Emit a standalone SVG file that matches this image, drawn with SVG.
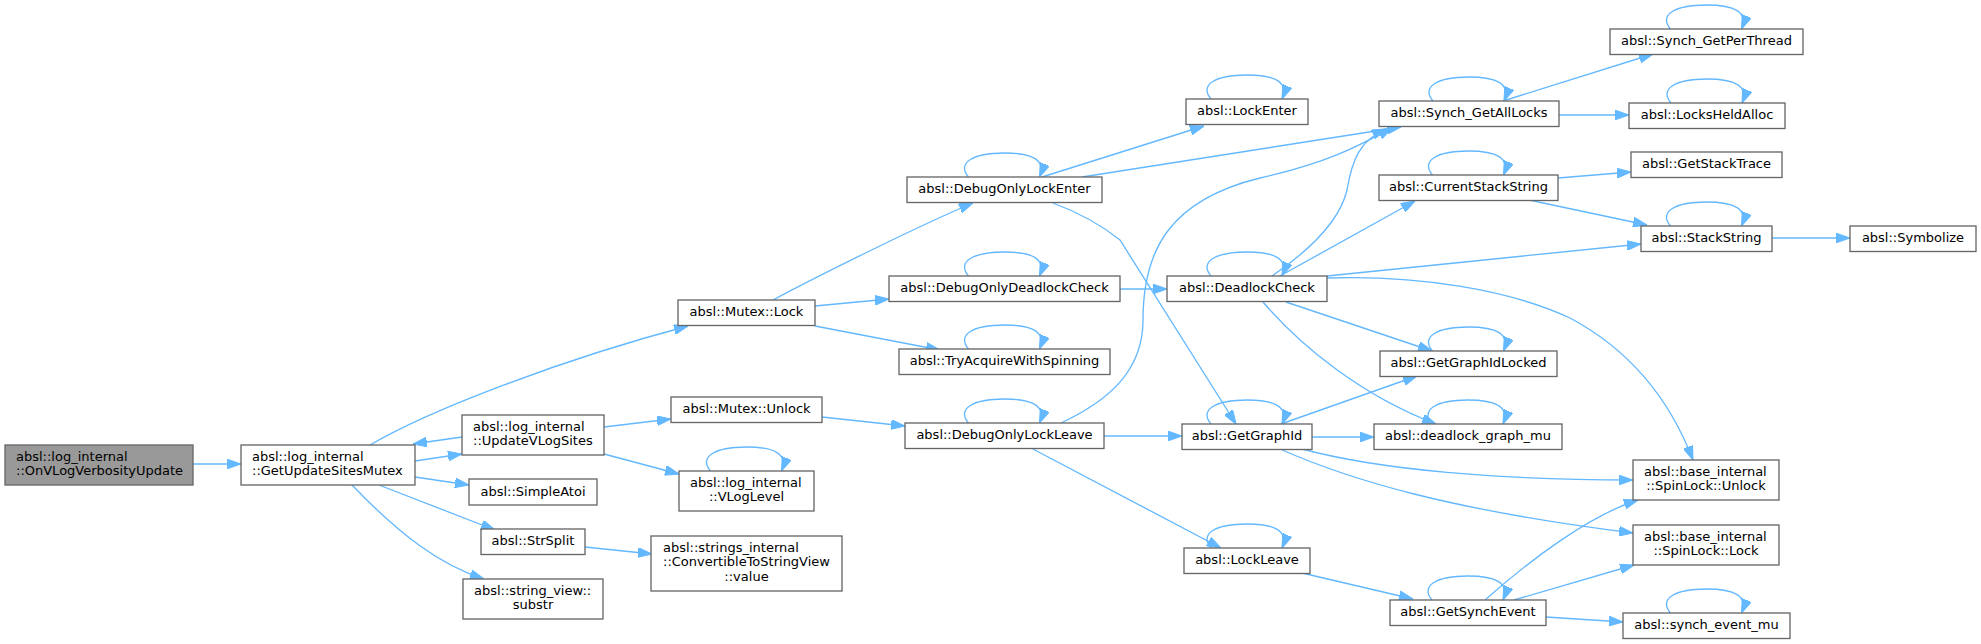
<svg xmlns="http://www.w3.org/2000/svg" width="1981" height="644" viewBox="0 0 1981 644">
<style>
.node rect{fill:#ffffff;stroke:#666666;stroke-width:1.33}
.root rect{fill:#999999}
text{font-family:"DejaVu Sans","Liberation Sans",sans-serif;font-size:13px;fill:#000000}
.c{text-anchor:middle}
.edges path{fill:none;stroke:#63b8ff;stroke-width:1.33;marker-end:url(#arr)}
</style>
<defs>
<marker id="arr" markerUnits="userSpaceOnUse" markerWidth="14" markerHeight="10" viewBox="0 0 13 9" refX="13" refY="4.5" orient="auto">
<path d="M0,0 L13,4.5 L0,9 z" fill="#63b8ff" stroke="#63b8ff" stroke-width="1"/>
</marker>
</defs>
<rect width="1981" height="644" fill="#ffffff"/>
<g class="edges" id="edges">
<path d="M193,464 L241,464"/>
<path d="M370,445 C430,410 560,360 688,326"/>
<path d="M415,461 L462,454"/>
<path d="M462,437 L413,444"/>
<path d="M415,477 L469,485"/>
<path d="M379,485 L495,530"/>
<path d="M352,485 C400,535 440,565 484,579"/>
<path d="M604,427 L671,419"/>
<path d="M604,454 L679,474"/>
<path d="M585,547 L652,554"/>
<path d="M773,300 C810,280 920,225 973,203"/>
<path d="M815,306 L889,299"/>
<path d="M815,326 L940,350"/>
<path d="M1042,177 L1204,126"/>
<path d="M1082,177 L1401,127"/>
<path d="M1053,203 C1080,213 1105,228 1120,240 L1236,424"/>
<path d="M1120,289 L1167,289"/>
<path d="M822,417 L905,426"/>
<path d="M1061,423 C1110,400 1143,370 1143,320 C1143,250 1170,200 1260,178 C1330,162 1360,145 1392,128"/>
<path d="M1104,436 L1182,436"/>
<path d="M1031,448 L1221,548"/>
<path d="M1503,101 L1653,54"/>
<path d="M1559,115 L1629,115"/>
<path d="M1272,276 C1310,250 1340,220 1347,190 C1352,160 1360,140 1386,129"/>
<path d="M1280,276 L1415,201"/>
<path d="M1327,276 L1641,244"/>
<path d="M1327,278 C1420,275 1510,290 1570,318 C1630,350 1670,400 1693,460"/>
<path d="M1286,302 L1432,351"/>
<path d="M1263,302 C1300,345 1360,395 1436,424"/>
<path d="M1558,178 L1631,172"/>
<path d="M1529,200 L1647,225"/>
<path d="M1772,238 L1850,238"/>
<path d="M1281,424 L1417,376"/>
<path d="M1312,437 L1374,437"/>
<path d="M1302,449 C1380,470 1500,480 1633,480"/>
<path d="M1280,449 C1350,480 1450,510 1633,533"/>
<path d="M1302,573 L1413,599"/>
<path d="M1485,600 C1530,560 1590,515 1638,500"/>
<path d="M1514,600 L1634,565"/>
<path d="M1546,617 L1623,622"/>
<path d="M1670.5,29 C1658.5,15 1674.5,5 1706.5,5 C1734.5,5 1748.5,12 1741.5,29"/>
<path d="M1433,101 C1421,87 1437,77 1469,77 C1497,77 1511,84 1504,101"/>
<path d="M1671,103 C1659,89 1675,79 1707,79 C1735,79 1749,86 1742,103"/>
<path d="M1432.5,175 C1420.5,161 1436.5,151 1468.5,151 C1496.5,151 1510.5,158 1503.5,175"/>
<path d="M1670.5,226 C1658.5,212 1674.5,202 1706.5,202 C1734.5,202 1748.5,209 1741.5,226"/>
<path d="M1211,99 C1199,85 1215,75 1247,75 C1275,75 1289,82 1282,99"/>
<path d="M968.5,177 C956.5,163 972.5,153 1004.5,153 C1032.5,153 1046.5,160 1039.5,177"/>
<path d="M968.5,276 C956.5,262 972.5,252 1004.5,252 C1032.5,252 1046.5,259 1039.5,276"/>
<path d="M1211,276 C1199,262 1215,252 1247,252 C1275,252 1289,259 1282,276"/>
<path d="M968.5,349 C956.5,335 972.5,325 1004.5,325 C1032.5,325 1046.5,332 1039.5,349"/>
<path d="M968.5,423 C956.5,409 972.5,399 1004.5,399 C1032.5,399 1046.5,406 1039.5,423"/>
<path d="M1211,424 C1199,410 1215,400 1247,400 C1275,400 1289,407 1282,424"/>
<path d="M1432.5,351 C1420.5,337 1436.5,327 1468.5,327 C1496.5,327 1510.5,334 1503.5,351"/>
<path d="M1432,424 C1420,410 1436,400 1468,400 C1496,400 1510,407 1503,424"/>
<path d="M1211,548 C1199,534 1215,524 1247,524 C1275,524 1289,531 1282,548"/>
<path d="M1432,600 C1420,586 1436,576 1468,576 C1496,576 1510,583 1503,600"/>
<path d="M1670.5,613 C1658.5,599 1674.5,589 1706.5,589 C1734.5,589 1748.5,596 1741.5,613"/>
<path d="M710.5,471 C698.5,457 714.5,447 746.5,447 C774.5,447 788.5,454 781.5,471"/>
</g>
<g id="n_onvlog" class="node root"><rect x="5" y="445" width="188" height="40"/><text x="16" y="461">absl::log_internal</text><text x="16" y="475">::OnVLogVerbosityUpdate</text></g>
<g id="n_getupdatesitesmutex" class="node"><rect x="241" y="445" width="174" height="40"/><text x="252" y="461">absl::log_internal</text><text x="252" y="475">::GetUpdateSitesMutex</text></g>
<g id="n_updatevlogsites" class="node"><rect x="462" y="415" width="142" height="40"/><text x="473" y="431">absl::log_internal</text><text x="473" y="445">::UpdateVLogSites</text></g>
<g id="n_simpleatoi" class="node"><rect x="469" y="479" width="128" height="26"/><text class="c" x="533" y="495.5">absl::SimpleAtoi</text></g>
<g id="n_strsplit" class="node"><rect x="481" y="529" width="104" height="25.5"/><text class="c" x="533" y="545.3">absl::StrSplit</text></g>
<g id="n_substr" class="node"><rect x="463" y="579" width="140" height="40"/><text x="474" y="595">absl::string_view::</text><text class="c" x="533" y="609">substr</text></g>
<g id="n_mutexlock" class="node"><rect x="678" y="300" width="137" height="25.5"/><text class="c" x="746.5" y="316.3">absl::Mutex::Lock</text></g>
<g id="n_mutexunlock" class="node"><rect x="671" y="397" width="151" height="25.5"/><text class="c" x="746.5" y="413.3">absl::Mutex::Unlock</text></g>
<g id="n_vloglevel" class="node"><rect x="679" y="471" width="135" height="40"/><text x="690" y="487">absl::log_internal</text><text class="c" x="746.5" y="501">::VLogLevel</text></g>
<g id="n_convertible" class="node"><rect x="651" y="536" width="191" height="55"/><text x="663" y="552">absl::strings_internal</text><text x="663" y="566">::ConvertibleToStringView</text><text class="c" x="746.5" y="581">::value</text></g>
<g id="n_debugonlylockenter" class="node"><rect x="907" y="177" width="195" height="25.5"/><text class="c" x="1004.5" y="193.3">absl::DebugOnlyLockEnter</text></g>
<g id="n_debugonlydeadlockcheck" class="node"><rect x="889" y="276" width="231" height="25.5"/><text class="c" x="1004.5" y="292.3">absl::DebugOnlyDeadlockCheck</text></g>
<g id="n_tryacquire" class="node"><rect x="899" y="349" width="211" height="25.5"/><text class="c" x="1004.5" y="365.3">absl::TryAcquireWithSpinning</text></g>
<g id="n_debugonlylockleave" class="node"><rect x="905" y="423" width="199" height="25.5"/><text class="c" x="1004.5" y="439.3">absl::DebugOnlyLockLeave</text></g>
<g id="n_lockenter" class="node"><rect x="1186" y="99" width="122" height="25.5"/><text class="c" x="1247" y="115.3">absl::LockEnter</text></g>
<g id="n_deadlockcheck" class="node"><rect x="1167" y="276" width="160" height="25.5"/><text class="c" x="1247" y="292.3">absl::DeadlockCheck</text></g>
<g id="n_getgraphid" class="node"><rect x="1182" y="424" width="130" height="25.5"/><text class="c" x="1247" y="440.3">absl::GetGraphId</text></g>
<g id="n_lockleave" class="node"><rect x="1184" y="548" width="126" height="25.5"/><text class="c" x="1247" y="564.3">absl::LockLeave</text></g>
<g id="n_synchgetalllocks" class="node"><rect x="1379" y="101" width="180" height="25.5"/><text class="c" x="1469" y="117.3">absl::Synch_GetAllLocks</text></g>
<g id="n_currentstackstring" class="node"><rect x="1379" y="175" width="179" height="25.5"/><text class="c" x="1468.5" y="191.3">absl::CurrentStackString</text></g>
<g id="n_getgraphidlocked" class="node"><rect x="1380" y="351" width="177" height="25.5"/><text class="c" x="1468.5" y="367.3">absl::GetGraphIdLocked</text></g>
<g id="n_deadlockgraphmu" class="node"><rect x="1374" y="424" width="188" height="25.5"/><text class="c" x="1468" y="440.3">absl::deadlock_graph_mu</text></g>
<g id="n_getsynchevent" class="node"><rect x="1390" y="600" width="156" height="25.5"/><text class="c" x="1468" y="616.3">absl::GetSynchEvent</text></g>
<g id="n_synchgetperthread" class="node"><rect x="1610" y="29" width="193" height="25.5"/><text class="c" x="1706.5" y="45.3">absl::Synch_GetPerThread</text></g>
<g id="n_locksheldalloc" class="node"><rect x="1629" y="103" width="156" height="25.5"/><text class="c" x="1707" y="119.3">absl::LocksHeldAlloc</text></g>
<g id="n_getstacktrace" class="node"><rect x="1631" y="152" width="151" height="25.5"/><text class="c" x="1706.5" y="168.3">absl::GetStackTrace</text></g>
<g id="n_stackstring" class="node"><rect x="1641" y="226" width="131" height="25.5"/><text class="c" x="1706.5" y="242.3">absl::StackString</text></g>
<g id="n_spinlockunlock" class="node"><rect x="1633" y="460" width="146" height="40"/><text x="1644" y="476">absl::base_internal</text><text class="c" x="1706" y="490">::SpinLock::Unlock</text></g>
<g id="n_spinlocklock" class="node"><rect x="1633" y="525" width="146" height="40"/><text x="1644" y="541">absl::base_internal</text><text class="c" x="1706" y="555">::SpinLock::Lock</text></g>
<g id="n_syncheventmu" class="node"><rect x="1623" y="613" width="167" height="25.5"/><text class="c" x="1706.5" y="629.3">absl::synch_event_mu</text></g>
<g id="n_symbolize" class="node"><rect x="1850" y="226" width="126" height="25.5"/><text class="c" x="1913" y="242.3">absl::Symbolize</text></g>
</svg>
